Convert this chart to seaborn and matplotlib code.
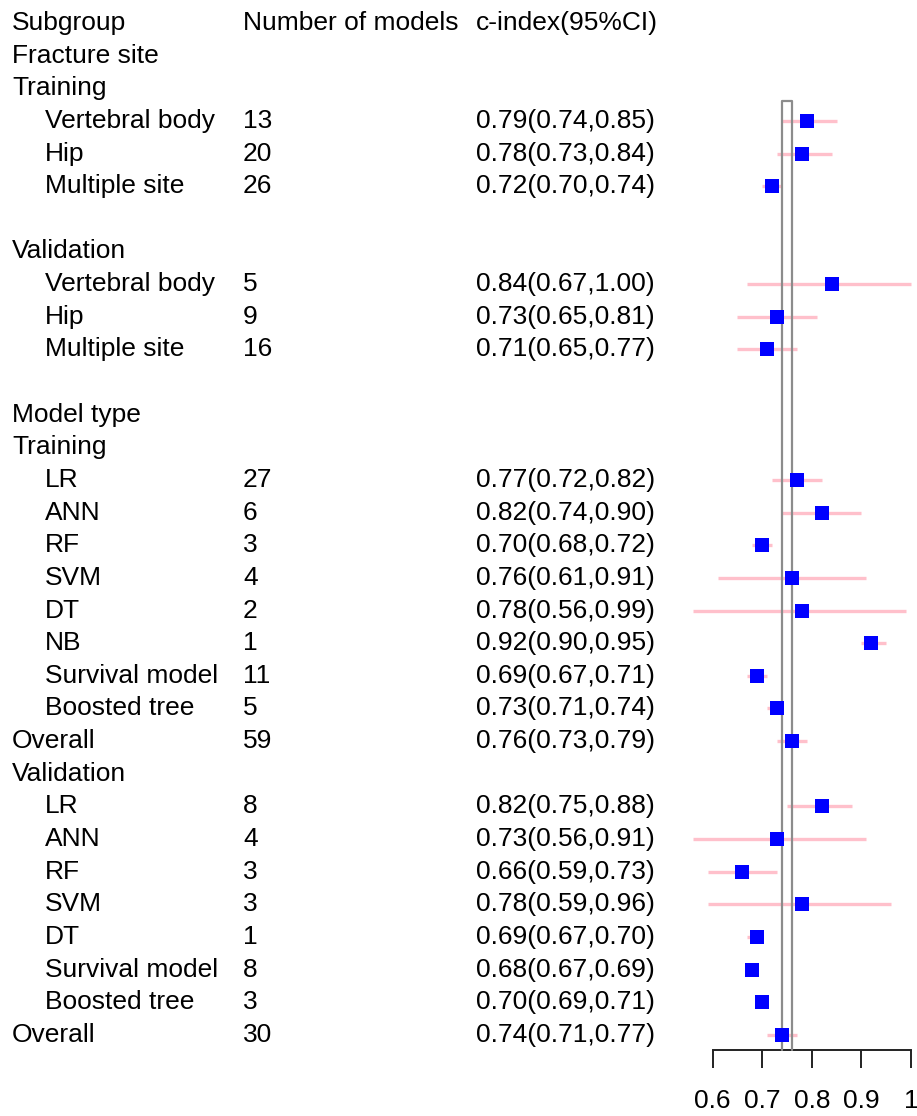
import numpy as np
import pandas as pd
import matplotlib
matplotlib.use("Agg")
import matplotlib.pyplot as plt
import matplotlib.transforms as mtransforms
import seaborn as sns

# ---------------- data ----------------
labels = ["Subgroup", "Fracture site", "Training", "Vertebral body", "Hip", "Multiple site", "",
          "Validation", "Vertebral body", "Hip", "Multiple site", "",
          "Model type", "Training", "LR", "ANN", "RF", "SVM", "DT", "NB", "Survival model",
          "Boosted tree", "Overall", "Validation", "LR", "ANN", "RF", "SVM", "DT",
          "Survival model", "Boosted tree", "Overall"]
indent = [0, 0, 0, 1, 1, 1, 0,
          0, 1, 1, 1, 0,
          0, 0, 1, 1, 1, 1, 1, 1, 1,
          1, 0, 0, 1, 1, 1, 1, 1,
          1, 1, 0]
n_models = ["Number of models", "", "", "13", "20", "26", "",
            "", "5", "9", "16", "",
            "", "", "27", "6", "3", "4", "2", "1", "11",
            "5", "59", "", "8", "4", "3", "3", "1",
            "8", "3", "30"]
nan = np.nan
cindex = [nan, nan, nan, 0.79, 0.78, 0.72, nan,
          nan, 0.84, 0.73, 0.71, nan,
          nan, nan, 0.77, 0.82, 0.70, 0.76, 0.78, 0.92, 0.69,
          0.73, 0.76, nan, 0.82, 0.73, 0.66, 0.78, 0.69,
          0.68, 0.70, 0.74]
ci_low = [nan, nan, nan, 0.74, 0.73, 0.70, nan,
          nan, 0.67, 0.65, 0.65, nan,
          nan, nan, 0.72, 0.74, 0.68, 0.61, 0.56, 0.90, 0.67,
          0.71, 0.73, nan, 0.75, 0.56, 0.59, 0.59, 0.67,
          0.67, 0.69, 0.71]
ci_high = [nan, nan, nan, 0.85, 0.84, 0.74, nan,
           nan, 1.00, 0.81, 0.77, nan,
           nan, nan, 0.82, 0.90, 0.72, 0.91, 0.99, 0.95, 0.71,
           0.74, 0.79, nan, 0.88, 0.91, 0.73, 0.96, 0.70,
           0.69, 0.71, 0.77]
ref_lines = [0.74, 0.76]
xticks = [0.6, 0.7, 0.8, 0.9, 1.0]
xticklabels = ["0.6", "0.7", "0.8", "0.9", "1"]

df = pd.DataFrame({"label": labels, "indent": indent, "n": n_models,
                   "c": cindex, "lo": ci_low, "hi": ci_high})
df["row"] = np.arange(len(df))

# ---------------- figure ----------------
sns.set_style("white")
plt.rcParams["font.family"] = ["Liberation Sans", "DejaVu Sans"]
plt.rcParams["text.color"] = "black"
plt.rcParams["xtick.color"] = "black"

W, H = 917, 1116
fig = plt.figure(figsize=(W / 100, H / 100), dpi=100)
row_px = 32.64
row0_px = 23.0
axis_px = 1050.0
left_px, right_px = 712.7, 911.0
ax = fig.add_axes([left_px / W, 1 - axis_px / H, (right_px - left_px) / W, axis_px / H])
ax.set_xlim(0.6, 1.0)
ytop = -row0_px / row_px
ybot = (axis_px - row0_px) / row_px
ax.set_ylim(ybot, ytop)

fs = 19
d = df.dropna(subset=["c"])
# CI lines
ax.hlines(d["row"], d["lo"], d["hi"], color="#FFC0CB", lw=2.4, clip_on=False, zorder=2)
# reference box
box_top = (101 - row0_px) / row_px
ax.plot([ref_lines[0], ref_lines[0], ref_lines[1], ref_lines[1]],
        [ybot, box_top, box_top, ybot], color="#8c8c8c", lw=1.6, clip_on=False, zorder=3)
# markers
sns.scatterplot(data=d, x="c", y="row", marker="s", color="#0000FF", s=95,
                linewidth=0, ax=ax, zorder=4, clip_on=False, legend=False)

# axes styling
for sp in ["top", "right", "left"]:
    ax.spines[sp].set_visible(False)
ax.spines["bottom"].set_color("#222222")
ax.spines["bottom"].set_linewidth(1.4)
ax.set_yticks([])
ax.set_xticks(xticks)
ax.set_xticklabels(xticklabels, fontsize=fs)
ax.tick_params(axis="x", direction="out", length=13, width=1.4, color="#222222",
               labelcolor="black", pad=15, bottom=True)
ax.set_xlabel("")
ax.set_ylabel("")
ax.patch.set_alpha(0)

# text columns
trans = mtransforms.blended_transform_factory(fig.transFigure, ax.transData)
for _, r in df.iterrows():
    x0 = (45 if r["indent"] else 12) / W
    if r["label"]:
        ax.text(x0, r["row"], r["label"], transform=trans, fontsize=fs, va="center",
                ha="left", clip_on=False, color="black")
    if r["n"]:
        ax.text(243 / W, r["row"], r["n"], transform=trans, fontsize=fs, va="center",
                ha="left", clip_on=False, color="black")
    if not np.isnan(r["c"]):
        txt = f"{r['c']:.2f}({r['lo']:.2f},{r['hi']:.2f})"
        ax.text(476 / W, r["row"], txt, transform=trans, fontsize=fs, va="center",
                ha="left", clip_on=False, color="black")
ax.text(476 / W, 0, "c-index(95%CI)", transform=trans, fontsize=fs, va="center",
        ha="left", clip_on=False, color="black")

fig.savefig("out.png", dpi=100)
